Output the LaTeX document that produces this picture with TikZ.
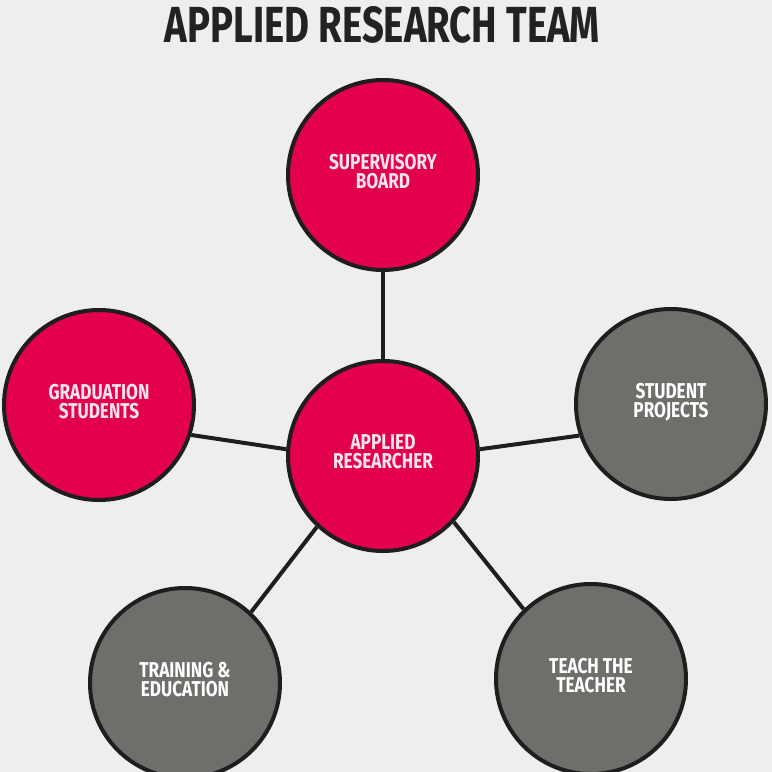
\documentclass[tikz,border=0pt]{standalone}
\usepackage{fontspec}
\setmainfont{Fira Sans}[FakeStretch=0.8]
\definecolor{bg}{HTML}{EEEEEE}
\definecolor{pk}{HTML}{E2004F}
\definecolor{gr}{HTML}{6E6E6B}
\definecolor{edge}{HTML}{1E1E1E}
\definecolor{pktext}{HTML}{FCE6EE}
\definecolor{titlec}{HTML}{222222}
\begin{document}
\begin{tikzpicture}[x=1pt,y=-1pt,
  bub/.style={circle, draw=edge, line width=4pt, minimum size=190pt, inner sep=0pt, align=center,
    text depth=8pt, font=\fontsize{21.5}{19}\selectfont\bfseries},
  pinkb/.style={bub, fill=pk, text=pktext},
  grayb/.style={bub, fill=gr, text=white},
  link/.style={draw=edge, line width=4pt}]
\fill[bg] (0,0) rectangle (772,772);
\useasboundingbox (0,0) rectangle (772,772);
\node[inner sep=0pt, text=titlec] (title) at (382.5,25) {\resizebox{435pt}{36pt}{\bfseries APPLIED RESEARCH TEAM}};
\node[pinkb] (T) at (383,175) {SUPERVISORY\\BOARD};
\node[pinkb] (C) at (383,456) {APPLIED\\RESEARCHER};
\node[pinkb] (L) at (99,405) {GRADUATION\\STUDENTS};
\node[grayb] (R) at (671,404) {STUDENT\\PROJECTS};
\node[grayb] (BL) at (185,683) {TRAINING \&\\EDUCATION};
\node[grayb] (BR) at (591,679) {TEACH THE\\TEACHER};
\draw[link] (T.south) -- (C.north);
\draw[link] (L.-18) -- (C.176);
\draw[link] (C.4) -- (R.-161.6);
\draw[link] (C.227) -- (BL.47.5);
\draw[link] (C.-43.4) -- (BR.134);
\end{tikzpicture}
\end{document}
